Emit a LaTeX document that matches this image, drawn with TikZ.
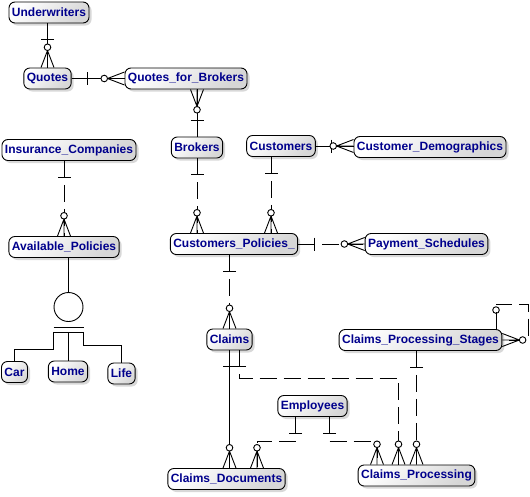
\documentclass[tikz,border=0pt]{standalone}
\usepackage{fontspec}
\setmainfont{Liberation Sans}
\usetikzlibrary{shadows,calc}
\definecolor{entblue}{RGB}{0,0,140}

\begin{document}
\begin{tikzpicture}[x=1pt,y=-1pt,line width=0.9pt,
  ent/.style={draw,rounded corners=6pt,minimum height=21pt,inner xsep=3pt,inner ysep=2pt,
    top color=white,bottom color=black!16,shading angle=45,
    drop shadow={shadow xshift=2.5pt,shadow yshift=-2.5pt,fill=black!30},
    text=entblue,font=\fontsize{12}{14}\selectfont\bfseries},
  rel/.style={dash pattern=on 17pt off 7pt},
  one/.pic={\draw[solid] (-6.5,-16) -- (6.5,-16);},
  zmany/.pic={\draw[solid] (-6.5,0) -- (0,-17) -- (6.5,0) (0,0) -- (0,-17);
    \draw[solid,fill=white] (0,-20.3) circle (3.3pt);},
  ring/.pic={\draw[solid] (0,-19) circle (3.3pt);}]

  \useasboundingbox (0,0) rectangle (530,496);

  \node[ent] (uw) at (49,12.5) {Underwriters};
  \node[ent] (qt) at (47.5,78.5) {Quotes};
  \node[ent] (qfb) at (186,78.5) {Quotes\_for\_Brokers};
  \node[ent] (brk) at (197,147.5) {Brokers};
  \node[ent] (ins) at (69,150) {Insurance\_Companies};
  \node[ent] (cus) at (281,146) {Customers};
  \node[ent] (cdm) at (430,147) {Customer\_Demographics};
  \node[ent] (avp) at (64,247) {Available\_Policies};
  \node[ent] (cpol) at (234,244) {Customers\_Policies\_};
  \node[ent] (pay) at (426.5,244) {Payment\_Schedules};
  \node[draw,circle,minimum size=29pt,inner sep=0pt] (cat) at (68.5,307) {};
  \node[ent] (car) at (14.5,372) {Car};
  \node[ent] (home) at (68,371.5) {Home};
  \node[ent] (life) at (121.5,373.5) {Life};
  \node[ent] (clm) at (229.5,339.5) {Claims};
  \node[ent] (cps) at (420.5,340) {Claims\_Processing\_Stages};
  \node[ent] (emp) at (312.5,406) {Employees};
  \node[ent] (cdoc) at (226.5,479) {Claims\_Documents};
  \node[ent] (cpr) at (416.5,475.5) {Claims\_Processing};

  \draw (qt.north |- uw.south) pic[rotate=180]{one} -- (qt.north) pic{zmany};
  \draw (qt.east) pic[rotate=-90]{one} -- (qt.east -| qfb.west) pic[rotate=90]{zmany};
  \draw (brk.north) pic{one} -- (brk.north |- qfb.south) pic[rotate=180]{zmany};
  \draw[rel] (avp.north |- ins.south) pic[rotate=180]{one} -- (avp.north) pic{zmany};
  \draw[rel] (brk.south) pic[rotate=180]{one} -- (brk.south |- cpol.north) pic{zmany};
  \draw[rel] ([xshift=-10pt]cus.south) pic[rotate=180]{one} -- ([xshift=-10pt]cus.south |- cpol.north) pic{zmany};
  \draw (cus.east) pic[rotate=-90]{one} -- (cus.east -| cdm.west) pic[rotate=90]{zmany};
  \draw[rel] (cpol.east) pic[rotate=-90]{one} -- (cpol.east -| pay.west) pic[rotate=90]{zmany};
  \draw[rel] (clm.north |- cpol.south) pic[rotate=180]{one} -- (clm.north) pic{zmany};
  \draw (clm.south) pic[rotate=180]{one} -- (clm.south |- cdoc.north) pic{zmany};
  \draw[rel] ([xshift=10pt]clm.south) pic[rotate=180]{one} -- ++(0,28) -| ([xshift=-18pt]cpr.north) pic{zmany};
  \draw[rel] (cpr.north |- cps.south) pic[rotate=180]{one} -- (cpr.north) pic{zmany};
  \draw[rel] ([xshift=-17pt]emp.south) pic[rotate=180]{one} -- ++(0,24) -| ([xshift=30.5pt]cdoc.north) pic{zmany};
  \draw[rel] ([xshift=17pt]emp.south) pic[rotate=180]{one} -- ++(0,24) -| ([xshift=-39.5pt]cpr.north) pic{zmany};
  \draw[rel] ([xshift=75.5pt]cps.north) pic{ring} -- ++(0,-25) -| ([xshift=26pt]cps.east) -- (cps.east) pic[rotate=-90]{zmany};

  % category
  \draw (cat.north |- avp.south) -- (cat.north);
  \draw ($(cat.south)+(-15,5)$) -- ++(30,0)
    ($(cat.south)+(-15,10)$) coordinate (catl) -- ++(30,0) coordinate (catr);
  \draw (catl) -- ++(0,17) -| (car.north);
  \draw (home.north |- catl) -- (home.north);
  \draw (catr) -- ++(0,13) -| (life.north);
\end{tikzpicture}
\end{document}
